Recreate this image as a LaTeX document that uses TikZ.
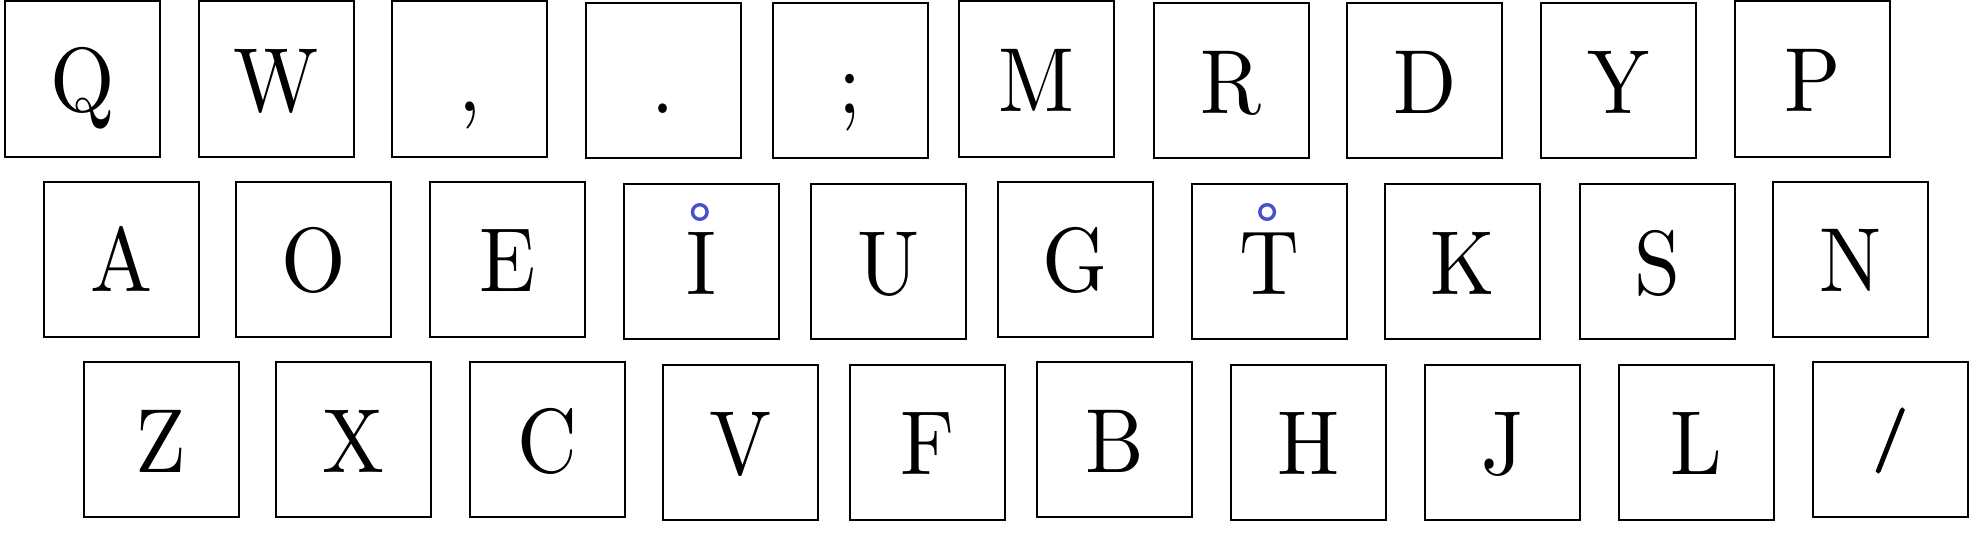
\documentclass[tikz,border=0pt]{standalone}
\usepackage{fontspec}
\setmainfont{lmroman10-regular.otf}
\newfontfamily\slashfont[FakeBold=3]{lmroman10-regular.otf}
\usepackage{graphicx}
\definecolor{ringblue}{RGB}{72,82,200}
\tikzset{
  keybox/.style={draw=black, line width=2pt, rectangle, minimum width=155pt, minimum height=155pt,
    inner sep=0pt, text height=65pt, text depth=0pt, font=\fontsize{91}{100}\selectfont},
  ringmark/.style={draw=ringblue, line width=3.4pt, circle, minimum size=14.6pt, inner sep=0pt},
}
\newcommand{\kl}[1]{\scalebox{0.91}[1]{#1}}
\newcommand{\shortslash}{\raisebox{16pt}{\scalebox{0.76}[0.7]{\slashfont /}}}
\begin{document}
\begin{tikzpicture}[x=1pt, y=-1pt]
\useasboundingbox (0,0) rectangle (1969,543);
% row 1
\node[keybox] (kQ) at (82.5,79) {\kl{Q}};
\node[keybox] (kW) at (276,79) {\kl{W}};
\node[keybox] (kComma) at (469.6,79) {\kl{,}};
\node[keybox] (kPeriod) at (663.4,80.8) {\kl{.}};
\node[keybox] (kSemi) at (850,80.8) {\kl{;}};
\node[keybox] (kM) at (1036.9,79) {\kl{M}};
\node[keybox] (kR) at (1231,80.8) {\kl{R}};
\node[keybox] (kD) at (1424.7,80.8) {\kl{D}};
\node[keybox] (kY) at (1618.9,80.8) {\kl{Y}};
\node[keybox] (kP) at (1812.5,79) {\kl{P}};
% row 2
\node[keybox] (kA) at (121.3,259.2) {\kl{A}};
\node[keybox] (kO) at (313.8,259.2) {\kl{O}};
\node[keybox] (kE) at (507.9,259.2) {\kl{E}};
\node[keybox] (kI) at (701.8,261.7) {\kl{I}};
\node[keybox] (kU) at (888.3,261.7) {\kl{U}};
\node[keybox] (kG) at (1075,259.2) {\kl{G}};
\node[keybox] (kT) at (1269.1,261.7) {\kl{T}};
\node[keybox] (kK) at (1462.9,261.7) {\kl{K}};
\node[keybox] (kS) at (1657,261.7) {\kl{S}};
\node[keybox] (kN) at (1850.9,259.2) {\kl{N}};
% row 3
\node[keybox] (kZ) at (161,439.9) {\kl{Z}};
\node[keybox] (kX) at (353.4,439.9) {\kl{X}};
\node[keybox] (kC) at (547.3,439.9) {\kl{C}};
\node[keybox] (kV) at (740.9,442.3) {\kl{V}};
\node[keybox] (kF) at (927.7,442.3) {\kl{F}};
\node[keybox] (kB) at (1114.8,439.7) {\kl{B}};
\node[keybox] (kH) at (1308.7,442.3) {\kl{H}};
\node[keybox] (kJ) at (1502.3,442.3) {\kl{J}};
\node[keybox] (kL) at (1696.7,442.3) {\kl{L}};
\node[keybox] (kSlash) at (1890.3,439.9) {\shortslash};
% home-row marks
\node[ringmark] (ringI) at ([shift={(-2,-49.7)}]kI.center) {};
\node[ringmark] (ringT) at ([shift={(-2,-49.7)}]kT.center) {};
\end{tikzpicture}
\end{document}
